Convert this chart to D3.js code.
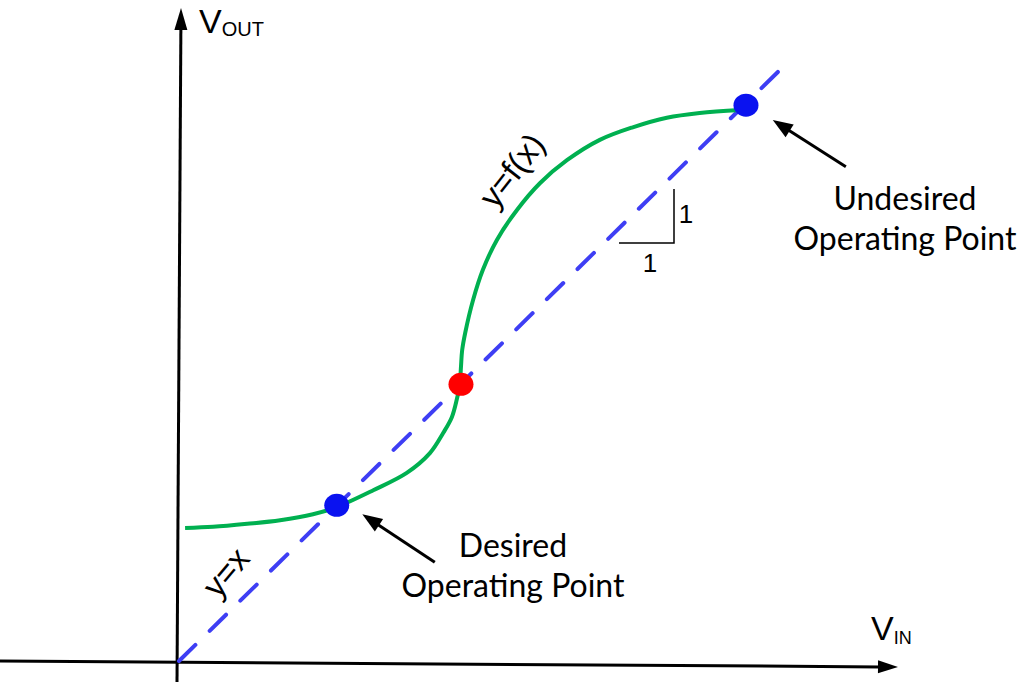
<!DOCTYPE html>
<html>
<head>
<meta charset="utf-8">
<script src="https://cdn.jsdelivr.net/npm/d3@7"></script>
<style>
  html, body { margin: 0; padding: 0; background: #fff; }
  svg { display: block; }
</style>
</head>
<body>
<svg id="chart" width="1021" height="682"></svg>
<script>
// ---- data (in V units, y = x reference line) ----
const refX = [0, 10];
const refY = [0, 10];

const curveX = [0.10, 0.56, 1.12, 1.66, 2.20, 2.59, 3.19, 3.74, 4.12, 4.34, 4.48, 4.56, 4.61, 4.63, 4.65, 4.70, 4.83, 4.99, 5.22, 5.55, 5.93, 6.37, 6.91, 7.45, 8.01, 8.55, 9.21];
const curveY = [2.22, 2.24, 2.29, 2.35, 2.45, 2.57, 2.85, 3.14, 3.47, 3.81, 4.07, 4.36, 4.62, 4.91, 5.19, 5.48, 6.03, 6.53, 7.03, 7.53, 7.98, 8.36, 8.70, 8.91, 9.07, 9.15, 9.20];

const pointNames = ["desired", "unstable", "undesired"];
const pointX = [2.59, 4.63, 9.31];
const pointY = [2.60, 4.62, 9.28];
const pointColors = ["#0A12F0", "#FF0000", "#0A12F0"];

// annotation arrows: [tailX, tailY, tipX, tipY] in data units
const annotArrows = [
  [4.20, 1.65, 3.01, 2.45],
  [10.95, 8.25, 9.75, 9.03]
];
const annotLines = [["Desired", "Operating Point"], ["Undesired", "Operating Point"]];

// ---- scales ----
const x = d3.scaleLinear().domain([0, 10]).range([179, 788]);
const y = d3.scaleLinear().domain([0, 10]).range([661, 62]);

const svg = d3.select("#chart");
const sans = "'Liberation Sans', Arial, sans-serif";

function arrow(g, x1, y1, x2, y2, w, headLen, headW, color) {
  const ang = Math.atan2(y2 - y1, x2 - x1);
  const bx = x2 - headLen * Math.cos(ang), by = y2 - headLen * Math.sin(ang);
  g.append("line").attr("x1", x1).attr("y1", y1).attr("x2", bx + 2 * Math.cos(ang)).attr("y2", by + 2 * Math.sin(ang))
    .attr("stroke", color).attr("stroke-width", w);
  const px = -Math.sin(ang) * headW / 2, py = Math.cos(ang) * headW / 2;
  g.append("polygon")
    .attr("points", `${x2},${y2} ${bx + px},${by + py} ${bx - px},${by - py}`)
    .attr("fill", color);
}

// ---- axes ----
const axes = svg.append("g");
arrow(axes, 0, 661, 898, 667, 3, 20, 13, "#000");   // V_IN axis
arrow(axes, 177, 682, 181, 8, 3, 22, 13, "#000");   // V_OUT axis

// axis labels
const vout = svg.append("text").attr("x", 199).attr("y", 33)
  .attr("font-family", sans).attr("font-size", 34).attr("fill", "#000");
vout.append("tspan").text("V");
vout.append("tspan").attr("font-size", 20).attr("dy", 3).text("OUT");

const vin = svg.append("text").attr("x", 871).attr("y", 640)
  .attr("font-family", sans).attr("font-size", 34).attr("fill", "#000");
vin.append("tspan").text("V");
vin.append("tspan").attr("font-size", 18).attr("dy", 4).text("IN");

// ---- y = x reference line ----
const line = d3.line().x(d => x(d[0])).y(d => y(d[1]));
svg.append("path")
  .datum(refX.map((v, i) => [v, refY[i]]))
  .attr("d", line)
  .attr("fill", "none")
  .attr("stroke", "#3E3EF4")
  .attr("stroke-width", 4)
  .attr("stroke-linecap", "round")
  .attr("stroke-dasharray", "23 20");

// ---- y = f(x) curve ----
const curveLine = d3.line().x(d => x(d[0])).y(d => y(d[1])).curve(d3.curveCatmullRom.alpha(0.5));
svg.append("path")
  .datum(curveX.map((v, i) => [v, curveY[i]]))
  .attr("d", curveLine)
  .attr("fill", "none")
  .attr("stroke", "#00B050")
  .attr("stroke-width", 4);

// ---- operating points ----
svg.selectAll("ellipse.pt")
  .data(pointNames)
  .join("ellipse")
  .attr("class", "pt")
  .attr("cx", (d, i) => x(pointX[i]))
  .attr("cy", (d, i) => y(pointY[i]))
  .attr("rx", 12.5)
  .attr("ry", 11.5)
  .attr("fill", (d, i) => pointColors[i]);

// ---- slope triangle ----
svg.append("path")
  .attr("d", "M674,189 L674,243 L619,243")
  .attr("fill", "none").attr("stroke", "#000").attr("stroke-width", 1.5);
svg.append("text").attr("x", 686).attr("y", 223).attr("text-anchor", "middle")
  .attr("font-family", sans).attr("font-size", 26).text("1");
svg.append("text").attr("x", 650).attr("y", 272).attr("text-anchor", "middle")
  .attr("font-family", sans).attr("font-size", 26).text("1");

// ---- curve labels ----
svg.append("text")
  .attr("transform", "translate(514,172) rotate(-52)")
  .attr("text-anchor", "middle").attr("dominant-baseline", "middle")
  .attr("font-family", sans).attr("font-size", 33).text("y=f(x)");
svg.append("text")
  .attr("transform", "translate(228,574) rotate(-50)")
  .attr("text-anchor", "middle").attr("dominant-baseline", "middle")
  .attr("font-family", sans).attr("font-size", 33).text("y=x");

// ---- annotations ----
const ann = svg.append("g");
annotArrows.forEach(a => arrow(ann, x(a[0]), y(a[1]), x(a[2]), y(a[3]), 3, 20, 15, "#000"));

const labelPos = [[513, 557, 597], [905, 210, 250]];
const labelFont = "Lato, 'Open Sans', sans-serif";
const fs = 32;
annotLines.forEach((lines, k) => {
  lines.forEach((t, j) => {
    ann.append("text")
      .attr("class", "annot")
      .attr("x", labelPos[k][0])
      .attr("y", labelPos[k][1 + j])
      .attr("text-anchor", "middle")
      .attr("font-family", labelFont)
      .attr("font-size", fs)
      .attr("fill", "#000")
      .text(t);
  });
});
</script>
</body>
</html>
